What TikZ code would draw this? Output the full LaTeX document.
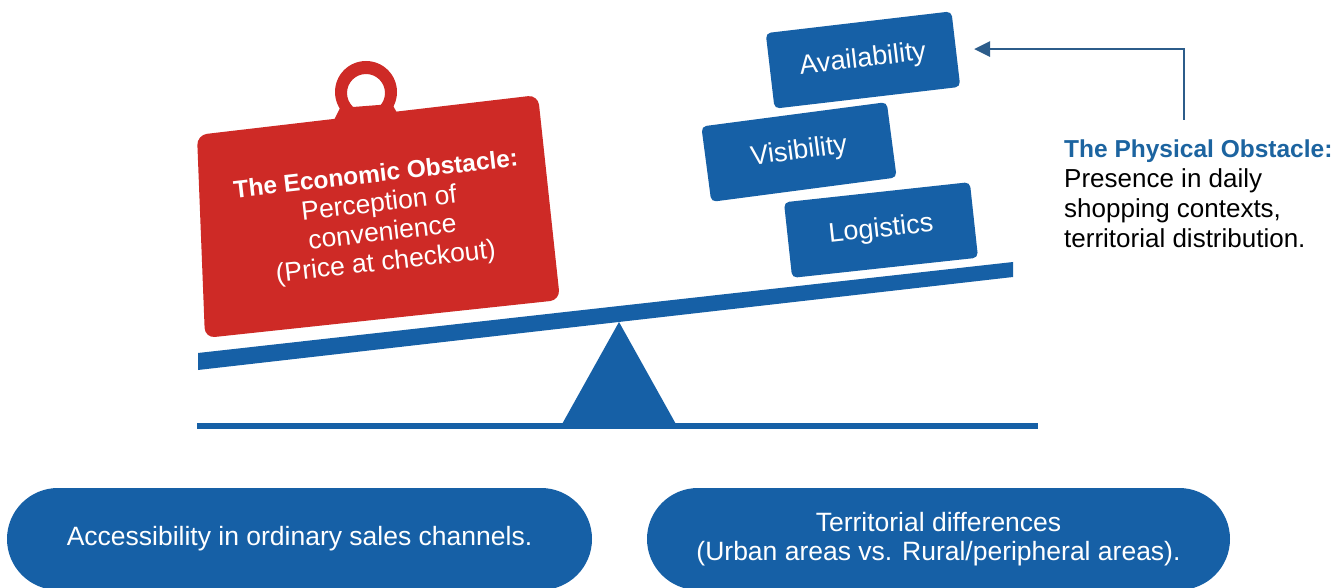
\documentclass[tikz,border=0pt]{standalone}
\usepackage{fontspec}
\setmainfont{Liberation Sans}
\usetikzlibrary{arrows.meta,shapes.misc}
\definecolor{mblue}{RGB}{22,96,166}
\definecolor{mred}{RGB}{206,42,38}
\definecolor{arrowc}{RGB}{44,92,138}
\definecolor{ptitle}{RGB}{28,100,160}
\begin{document}
\begin{tikzpicture}[x=1pt,y=-1pt,
  bluebox/.style={fill=mblue, rounded corners=5pt, minimum width=187pt, minimum height=76pt,
    text=white, font=\fontsize{27}{30}\selectfont, inner sep=0pt},
  pill/.style={fill=mblue, rounded rectangle, minimum height=102pt, text=white,
    font=\fontsize{26.5}{29.5}\selectfont, align=center, inner sep=0pt},
  tagtext/.style={text=white, align=center, font=\fontsize{26.5}{29.5}\selectfont},
  conn/.style={draw=arrowc, line width=2.5pt, -{Triangle[length=16pt,width=15pt]}}]
\useasboundingbox (0,0) rectangle (1342,588);
\fill[white] (0,0) rectangle (1342,588);

% scale: ground, fulcrum, beam
\fill[mblue] (197,423) rectangle (1038,429);
\fill[mblue] (619,322) -- (677,426) -- (561,426) -- cycle;
\fill[mblue] (198,353) -- (1013,262) -- (1013,277) -- (198,370) -- cycle;

% red tag with ring
\fill[mred, even odd rule] (366,92) circle[radius=31pt] (366,93) circle[radius=19pt];
\fill[mred] (340,108) -- (392,104) -- (400,118) -- (332,124) -- cycle;
\fill[mred, rounded corners=10pt] (197,135) -- (538,95) -- (560,300) -- (205,338) -- cycle;
\node[tagtext, rotate=6.5] (econ) at (381,220)
  {{\fontsize{24.5}{29.5}\selectfont\bfseries The Economic Obstacle:}\\Perception of\\convenience\\(Price at checkout)};

% blue blocks
\node[bluebox, rotate=6.7] (avail) at (863,60) {Availability};
\node[bluebox, rotate=7.5] (vis) at (799,152) {Visibility};
\node[bluebox, rotate=6.2] (log) at (881,230) {Logistics};

% physical obstacle
\node[anchor=north west, align=left, inner sep=0pt, font=\fontsize{26}{29.7}\selectfont] (phys) at (1064,140)
  {\textcolor{ptitle}{\fontsize{24.5}{29.7}\selectfont\bfseries The Physical Obstacle:}\\Presence in daily\\shopping contexts,\\territorial distribution.};
\coordinate (pa) at (1184,120);
\draw[conn] (pa) |- ([xshift=18pt]avail.east);

% bottom pills
\node[pill, minimum width=585pt] (acc) at (299.5,539) {Accessibility in ordinary sales channels.};
\node[pill, minimum width=583pt] (terr) at (938.5,539) {Territorial differences\\(Urban areas vs. Rural/peripheral areas).};
\end{tikzpicture}
\end{document}
